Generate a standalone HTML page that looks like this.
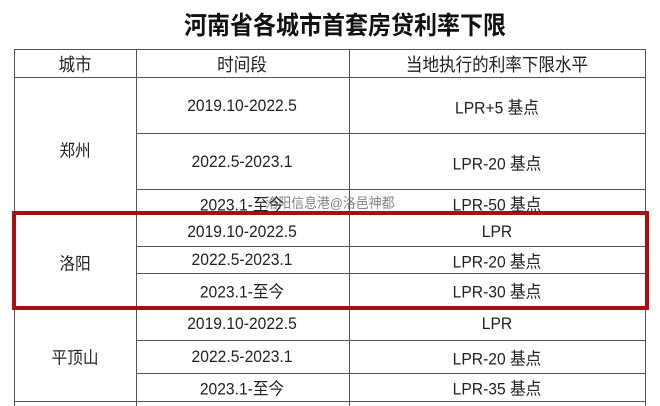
<!DOCTYPE html>
<html><head><meta charset="utf-8"><style>
body{margin:0;width:660px;height:406px;background:#fff;position:relative;overflow:hidden;font-family:"Liberation Sans","Noto Sans CJK SC",sans-serif;color:#222}
.h{position:absolute;height:1px;background:#555}
.v{position:absolute;width:1px;background:#555}
.t{position:absolute;transform:translate(-50%,-50%) scaleX(0.92);white-space:nowrap;font-size:17px}
</style></head><body>
<div class="t" style="left:345px;top:24px;font-size:25px;color:#111;font-weight:bold">河南省各城市首套房贷利率下限</div>
<div class="h" style="left:14px;width:632px;top:49px"></div>
<div class="h" style="left:14px;width:632px;top:77px"></div>
<div class="h" style="left:136px;width:510px;top:133px"></div>
<div class="h" style="left:136px;width:510px;top:189px"></div>
<div class="h" style="left:14px;width:632px;top:213px"></div>
<div class="h" style="left:136px;width:510px;top:246px"></div>
<div class="h" style="left:136px;width:510px;top:273px"></div>
<div class="h" style="left:14px;width:632px;top:308px"></div>
<div class="h" style="left:136px;width:510px;top:340px"></div>
<div class="h" style="left:136px;width:510px;top:373px"></div>
<div class="h" style="left:14px;width:632px;top:401px"></div>
<div class="v" style="left:14px;top:49px;height:357px"></div>
<div class="v" style="left:136px;top:49px;height:357px"></div>
<div class="v" style="left:349px;top:49px;height:357px"></div>
<div class="v" style="left:645px;top:49px;height:357px"></div>
<div style="position:absolute;left:12px;top:211px;width:629px;height:91px;border:4px solid #a80f12"></div>
<div class="t" style="left:75px;top:64px;font-size:18px">城市</div>
<div class="t" style="left:242px;top:64px;font-size:18px">时间段</div>
<div class="t" style="left:497px;top:64px;font-size:18px">当地执行的利率下限水平</div>
<div class="t" style="left:75px;top:149px">郑州</div>
<div class="t" style="left:242px;top:106px">2019.10-2022.5</div>
<div class="t" style="left:497px;top:106px">LPR+5 基点</div>
<div class="t" style="left:242px;top:162px">2022.5-2023.1</div>
<div class="t" style="left:497px;top:162px">LPR-20 基点</div>
<div class="t" style="left:242px;top:203px">2023.1-至今</div>
<div class="t" style="left:497px;top:203px">LPR-50 基点</div>
<div class="t" style="left:330px;top:203px;font-size:14px;color:rgba(90,90,90,0.75)">洛阳信息港@洛邑神都</div>
<div class="t" style="left:75px;top:262px">洛阳</div>
<div class="t" style="left:242px;top:232px">2019.10-2022.5</div>
<div class="t" style="left:497px;top:232px">LPR</div>
<div class="t" style="left:242px;top:260px">2022.5-2023.1</div>
<div class="t" style="left:497px;top:260px">LPR-20 基点</div>
<div class="t" style="left:242px;top:290px">2023.1-至今</div>
<div class="t" style="left:497px;top:290px">LPR-30 基点</div>
<div class="t" style="left:75px;top:356px">平顶山</div>
<div class="t" style="left:242px;top:324px">2019.10-2022.5</div>
<div class="t" style="left:497px;top:324px">LPR</div>
<div class="t" style="left:242px;top:357px">2022.5-2023.1</div>
<div class="t" style="left:497px;top:357px">LPR-20 基点</div>
<div class="t" style="left:242px;top:387px">2023.1-至今</div>
<div class="t" style="left:497px;top:387px">LPR-35 基点</div>
</body></html>
